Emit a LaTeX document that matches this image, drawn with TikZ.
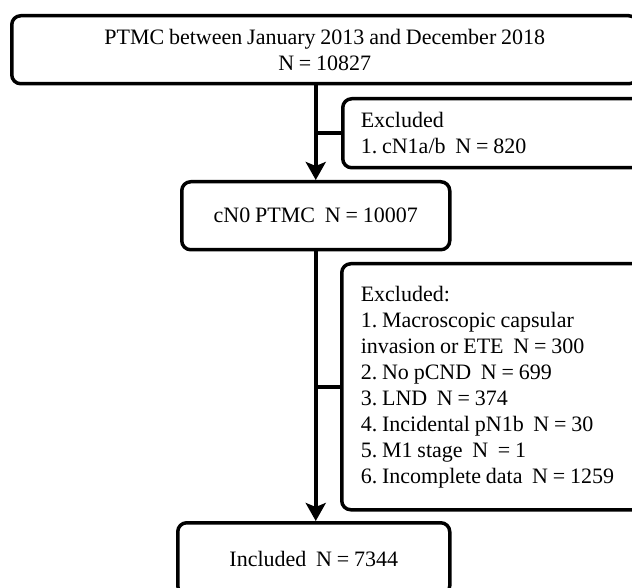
\documentclass[tikz,border=0pt]{standalone}
\usepackage{fontspec}
\setmainfont{Liberation Serif}
\usetikzlibrary{arrows.meta}
\newcommand\mytightsp{\spaceskip=0.22em\relax\xspaceskip=0.22em\relax}
\begin{document}
\frenchspacing
\begin{tikzpicture}[x=1pt,y=-1pt,
  box/.style={draw=black,line width=3.5pt,rounded corners=9pt,inner sep=0pt,
    font={\fontsize{22}{26}\selectfont},execute at begin node=\mytightsp,anchor=north west},
  flow/.style={line width=3.5pt,-{Stealth[length=18pt,width=20pt,inset=4pt]}},
  branch/.style={line width=3.5pt}]
\clip (0,0) rectangle (632,588);
\fill[white] (0,0) rectangle (632,588);
\node[box,minimum width=626pt,minimum height=68pt,align=center] (top) at (10,14)
  {PTMC between January 2013 and December 2018\\N = 10827};
\node[box,minimum width=310pt,minimum height=69pt,text width=274pt,align=left,inner xsep=18pt] (ex1) at (341,97)
  {Excluded\\1. cN1a/b\ \ N = 820};
\node[box,minimum width=268pt,minimum height=68pt] (cn0) at (180,180)
  {cN0 PTMC\ \ N = 10007};
\node[box,minimum width=310pt,minimum height=246pt,text width=274pt,align=left,inner xsep=19pt] (ex2) at (340,262)
  {Excluded:\\1. Macroscopic capsular\\invasion or ETE\ \ N = 300\\2. No pCND\ \ N = 699\\3. LND\ \ N = 374\\4. Incidental pN1b\ \ N = 30\\5. M1 stage\ \ N\ \ = 1\\6. Incomplete data\ \ N = 1259};
\node[box,minimum width=272pt,minimum height=72pt] (inc) at (176,521)
  {Included\ \ N = 7344};
\draw[flow] (top.south -| cn0.north) -- (cn0.north);
\draw[branch] (ex1.west) -- (ex1.west -| cn0.north);
\draw[flow] (cn0.south) -- (cn0.south |- inc.north);
\draw[branch] (ex2.west) -- (ex2.west -| cn0.south);
\end{tikzpicture}
\end{document}
